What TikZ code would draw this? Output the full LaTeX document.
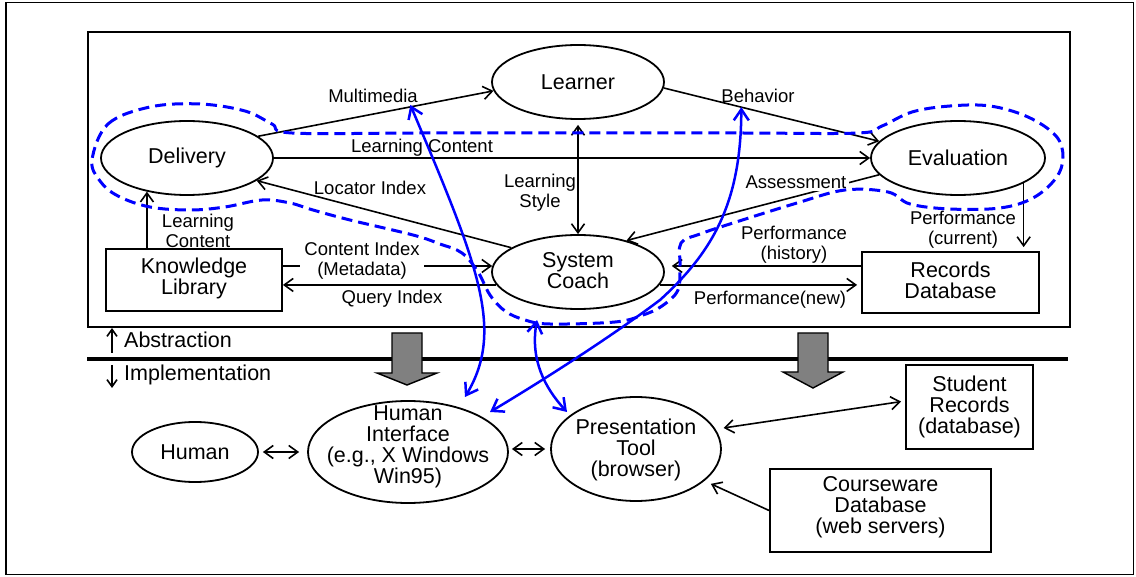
\documentclass[tikz,border=0pt]{standalone}
\usepackage{fontspec}
\setmainfont{Liberation Sans}
\usetikzlibrary{arrows.meta,shapes.geometric,calc}
\definecolor{blkgray}{RGB}{128,128,128}
\definecolor{pblue}{RGB}{0,0,255}
\newcommand\bigtxt{\fontsize{21.5}{21}\selectfont}
\newcommand\smalltxt{\fontsize{18.5}{20}\selectfont}
\tikzset{
  ell/.style={draw, ellipse, line width=1.8pt, inner sep=0pt},
  boxnode/.style={draw, rectangle, line width=1.8pt, inner sep=0pt, align=center, font=\bigtxt},
  txt/.style={align=center, inner sep=0pt, font=\bigtxt},
  sl/.style={align=center, inner sep=2pt, font=\smalltxt},
  conn/.style={line width=1.6pt, -{Straight Barb[length=9pt,width=13pt]}},
  dconn/.style={line width=1.6pt, {Straight Barb[length=9pt,width=13pt]}-{Straight Barb[length=9pt,width=13pt]}},
  bluearr/.style={pblue, line width=2.5pt, {Straight Barb[length=11pt,width=15pt]}-{Straight Barb[length=11pt,width=15pt]}},
  blob/.style={pblue, line width=3pt, dash pattern=on 11pt off 6pt},
  blockarrow/.style={fill=blkgray, draw=black, line width=1.4pt, line join=miter}
}
\begin{document}
\begin{tikzpicture}[x=1pt,y=-1pt]
\useasboundingbox (0,0) rectangle (1136,577);
% frames
\draw[line width=1.2pt] (6,2.5) rectangle (1133.5,574.5);
\draw[line width=1.8pt] (88,32) rectangle (1070,327);
\draw[line width=3.2pt] (87,359) -- (1068,359);

% abstraction / implementation
\node[txt, anchor=west] (abs) at (124,340) {Abstraction};
\node[txt, anchor=west] (impl) at (124,375) {Implementation};
\coordinate (absa) at (112,353);
\coordinate (impa) at (112,365);
\draw[line width=1.6pt, -{Straight Barb[length=7pt,width=10pt]}] (absa) -- ++(0,-25);
\draw[line width=1.6pt, -{Straight Barb[length=7pt,width=10pt]}] (impa) -- ++(0,23);

% top nodes
\node[ell, minimum width=172pt, minimum height=74pt] (deliv) at (187,158) {};
\node[txt] (deliv-t) at (deliv) {Delivery};
\node[ell, minimum width=172pt, minimum height=74pt] (learner) at (578,82) {};
\node[txt] (learner-t) at (learner) {Learner};
\node[ell, minimum width=174pt, minimum height=74pt] (eval) at (958,158) {};
\node[txt] (eval-t) at (eval) {Evaluation};
\node[ell, minimum width=172pt, minimum height=74pt] (coach) at (578,272) {};
\node[txt] (coach-t) at (578,271) {System\\Coach};
\node[boxnode, minimum width=176pt, minimum height=62pt] (kl) at (194,280) {};
\node[txt] (kl-t) at (194,278.5) {Knowledge\\Library};
\node[boxnode, minimum width=177pt, minimum height=61pt] (rec) at (950.5,282.5) {};
\node[txt] (rec-t) at (950.5,280.5) {Records\\Database};

% bottom nodes
\node[ell, minimum width=126pt, minimum height=60pt] (human) at (195,452) {};
\node[txt] (human-t) at (human) {Human};
\node[ell, minimum width=200pt, minimum height=102pt] (hi) at (408,452) {};
\node[txt] (hi-t) at (408,446.5) {Human\\Interface\\(e.g., X Windows\\Win95)};
\node[ell, minimum width=170pt, minimum height=104pt] (pt) at (636,449) {};
\node[txt] (pt-t) at (636,450) {Presentation\\Tool\\(browser)};
\node[boxnode, minimum width=127pt, minimum height=84pt] (sr) at (969.5,407) {};
\node[txt] (sr-t) at (969.5,406.5) {Student\\Records\\(database)};
\node[boxnode, minimum width=221pt, minimum height=83pt] (cw) at (880.5,510.5) {};
\node[txt] (cw-t) at (880.5,507.5) {Courseware\\Database\\(web servers)};

% block arrows
\draw[blockarrow] (392,333) -- (422,333) -- (422,373) -- (437,373) -- (407,385) -- (377,373) -- (392,373) -- cycle;
\draw[blockarrow] (798,333) -- (828,333) -- (828,372) -- (843,372) -- (813,388) -- (783,372) -- (798,372) -- cycle;

% top connectors
\draw[conn] (deliv.17) -- (learner.186);
\draw[conn] (learner.356) -- (eval.168);
\draw[conn] (deliv.east) -- (eval.west);
\draw[conn] (coach.160) -- (deliv.342);
\draw[dconn, shorten <=5pt] (learner.south) -- (coach.north);
\draw[conn] (eval.192) -- (coach.33);
\draw[conn, shorten >=4pt] (eval.339) -- (eval.339 |- rec.north);
\draw[conn] (kl.north -| deliv.220) -- (deliv.220);
\draw[conn] (kl.east |- coach.176) -- (coach.176);
\draw[conn] (coach.189) -- (coach.189 -| kl.east);
\draw[conn, shorten >=8pt] (rec.west |- coach.4) -- (coach.4);
\draw[conn, shorten >=4pt] (coach.351) -- (coach.351 -| rec.west);

% bottom connectors
\draw[dconn, shorten <=4pt, shorten >=8pt] (human.east) -- (hi.west);
\draw[dconn, shorten <=3pt, shorten >=5pt] (pt.west -| hi.east) -- (pt.west);
\draw[dconn, shorten <=8pt, shorten >=4pt] (pt.14) -- ($(sr.west)+(0,-6)$);
\draw[conn, shorten >=7pt] (cw.west) -- (pt.335);

% labels
\node[sl] (lbl-mm) at (373,96) {Multimedia};
\node[sl] (lbl-bh) at (758,96) {Behavior};
\node[sl] (lbl-lc) at (422,148) {Learning Content};
\node[sl] (lbl-li) at (370,188) {Locator Index};
\node[sl] (lbl-ls) at (540,193) {Learning\\Style};
\node[sl, fill=white, inner sep=3pt] (lbl-as) at (796,182) {Assessment};
\node[sl] (lbl-lc2) at (198,231) {Learning\\Content};
\node[sl, fill=white, inner sep=4pt] (lbl-ci) at (362,261) {Content Index\\(Metadata)};
\node[sl] (lbl-qi) at (392,299) {Query Index};
\node[sl] (lbl-ph) at (794,245) {Performance\\(history)};
\node[sl] (lbl-pn) at (770,300) {Performance(new)};
\node[sl] (lbl-pc) at (963,230) {Performance\\(current)};

% blue dashed boundary
\draw[blob] plot[smooth cycle, tension=0.6] coordinates {
 (92,160) (108,124) (150,107) (200,104) (245,111) (272,124) (292,133)
 (420,133) (580,133) (740,133) (858,133) (882,126) (912,112) (950,106)
 (990,106) (1028,117) (1056,136) (1063,157) (1056,178) (1033,198)
 (1000,208) (950,209) (910,204) (888,192) (845,190) (797,203) (733,223)
 (700,234) (681,243) (680,265) (678,290) (662,306) (643,315) (615,322)
 (550,324) (525,320) (505,311) (490,295) (478,272) (462,253) (440,244)
 (413,235) (350,220) (313,210) (290,203) (262,200) (225,207) (190,210)
 (150,207) (118,196) (100,181)};

% blue arrows
\path (deliv.17) -- (learner.186) coordinate[pos=0.65] (mmpt);
\path (learner.356) -- (eval.168) coordinate[pos=0.36] (bhpt);
\coordinate (hia) at ($(hi.center)+(57,-55)$);
\coordinate (hib) at ($(hi.center)+(82,-40)$);
\coordinate (cca) at ($(coach.center)+(-41,48)$);
\coordinate (pta) at ($(pt.center)+(-69,-37)$);
\draw[bluearr, shorten <=-2pt] (mmpt) .. controls (478,265) and (505,330) .. (hia);
\draw[bluearr] (bhpt) .. controls (741,200) and (715,250) .. (660,300) .. controls (620,330) and (560,370) .. (hib);
\draw[bluearr] (cca) .. controls (530,360) and (545,388) .. (pta);
\end{tikzpicture}
\end{document}
